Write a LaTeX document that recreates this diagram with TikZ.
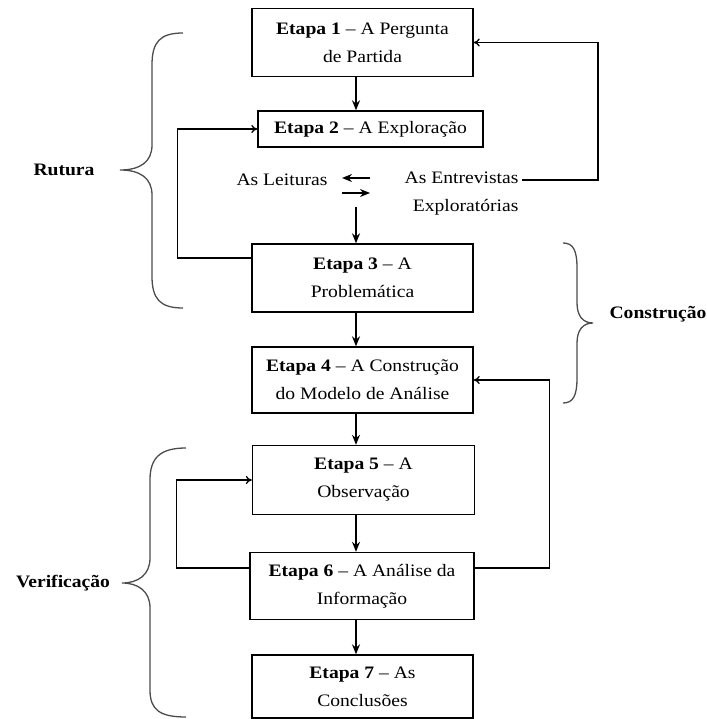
\documentclass[tikz,border=0pt]{standalone}
\usepackage{fontspec}
\setmainfont{Liberation Serif}[FakeStretch=1.12]
\usetikzlibrary{arrows.meta}
\tikzset{
  etapa/.style={draw, line width=1.4pt, minimum width=221pt, minimum height=68pt, align=center, inner sep=2pt},
  seta/.style={-{Stealth[length=10pt,width=8pt]}, line width=1.3pt},
  volta/.style={-{To[length=6pt,width=8pt]}, line width=1.3pt},
  chave/.style={line width=1.3pt, draw=black!70},
}
\begin{document}
\begin{tikzpicture}[x=1pt, y=-1pt, font=\fontsize{17.5}{28}\selectfont]
        \useasboundingbox (0,0) rectangle (706,719);

        \node[etapa] (e1) at (362.5,42.5) {\textbf{Etapa 1} – A Pergunta\\de Partida};
        \node[etapa, minimum width=225pt, minimum height=36pt] (e2) at (370.5,129) {\textbf{Etapa 2} – A Exploração};
        \node (leit) at (282,180) {As Leituras};
        \node[align=right, anchor=east] (entr) at (522,194) {As Entrevistas\\Exploratórias};
        \node[etapa] (e3) at (362.5,278) {\textbf{Etapa 3} – A\\Problemática};
        \node[etapa, minimum height=66pt] (e4) at (362.5,380) {\textbf{Etapa 4} – A Construção\\do Modelo de Análise};
        \node[etapa, minimum width=222pt, minimum height=69pt] (e5) at (363.5,480) {\textbf{Etapa 5} – A\\Observação};
        \node[etapa, minimum width=224pt, minimum height=67pt] (e6) at (362,586) {\textbf{Etapa 6} – A Análise da\\Informação};
        \node[etapa, minimum height=63pt] (e7) at (362.5,686.5) {\textbf{Etapa 7} – As\\Conclusões};

        \node (rut) at (64,170) {\bfseries Rutura};
        \node (cons) at (658,314) {\bfseries Construção};
        \node (verif) at (63,583) {\bfseries Verificação};

        % setas principais
        \coordinate (ax) at (356,0);
        \coordinate (desce) at (356,207);
        \draw[seta] (e1.south -| ax) -- (e2.north -| ax);
        \draw[seta] (desce) -- (e3.north -| ax);
        \draw[seta] (e3.south -| ax) -- (e4.north -| ax);
        \draw[seta] (e4.south -| ax) -- (e5.north -| ax);
        \draw[seta] (e5.south -| ax) -- (e6.north -| ax);
        \draw[seta] (e6.south -| ax) -- (e7.north -| ax);

        % leituras <-> entrevistas
        \coordinate (tl) at (342,178);
        \coordinate (tr) at (370,178);
        \coordinate (bl) at (342,193);
        \coordinate (br) at (370,193);
        \draw[seta] (tr) -- (tl);
        \draw[seta] (bl) -- (br);

        % retornos
        \draw[volta] (entr.east |- leit) -- ++(76,0) |- (e1.east);
        \draw[volta] ([yshift=20pt]e3.west) -- ++(-74,0) |- (e2.west);
        \draw[volta] ([yshift=18pt]e6.east) -- ++(75,0) |- (e4.east);
        \draw[volta] ([yshift=18pt]e6.west) -- ++(-73,0) |- (e5.west);

        % chavetas
        \draw[chave] (183,33) .. controls (160,33) and (152,42) .. (152,65) -- (152,145)
          .. controls (152,162) and (140,170) .. (120,170)
          .. controls (140,170) and (152,178) .. (152,195) -- (152,276)
          .. controls (152,299) and (160,308) .. (183,308);
        \draw[chave] (563,243) .. controls (573,243) and (577,250) .. (577,268) -- (577,303)
          .. controls (577,316) and (583,323) .. (593,323)
          .. controls (583,323) and (577,330) .. (577,343) -- (577,378)
          .. controls (577,396) and (573,403) .. (563,403);
        \draw[chave] (186,448) .. controls (160,448) and (150,458) .. (150,480) -- (150,558)
          .. controls (150,575) and (138,583) .. (122,583)
          .. controls (138,583) and (150,591) .. (150,608) -- (150,690)
          .. controls (150,710) and (160,717) .. (186,717);
      \end{tikzpicture}
\end{document}
